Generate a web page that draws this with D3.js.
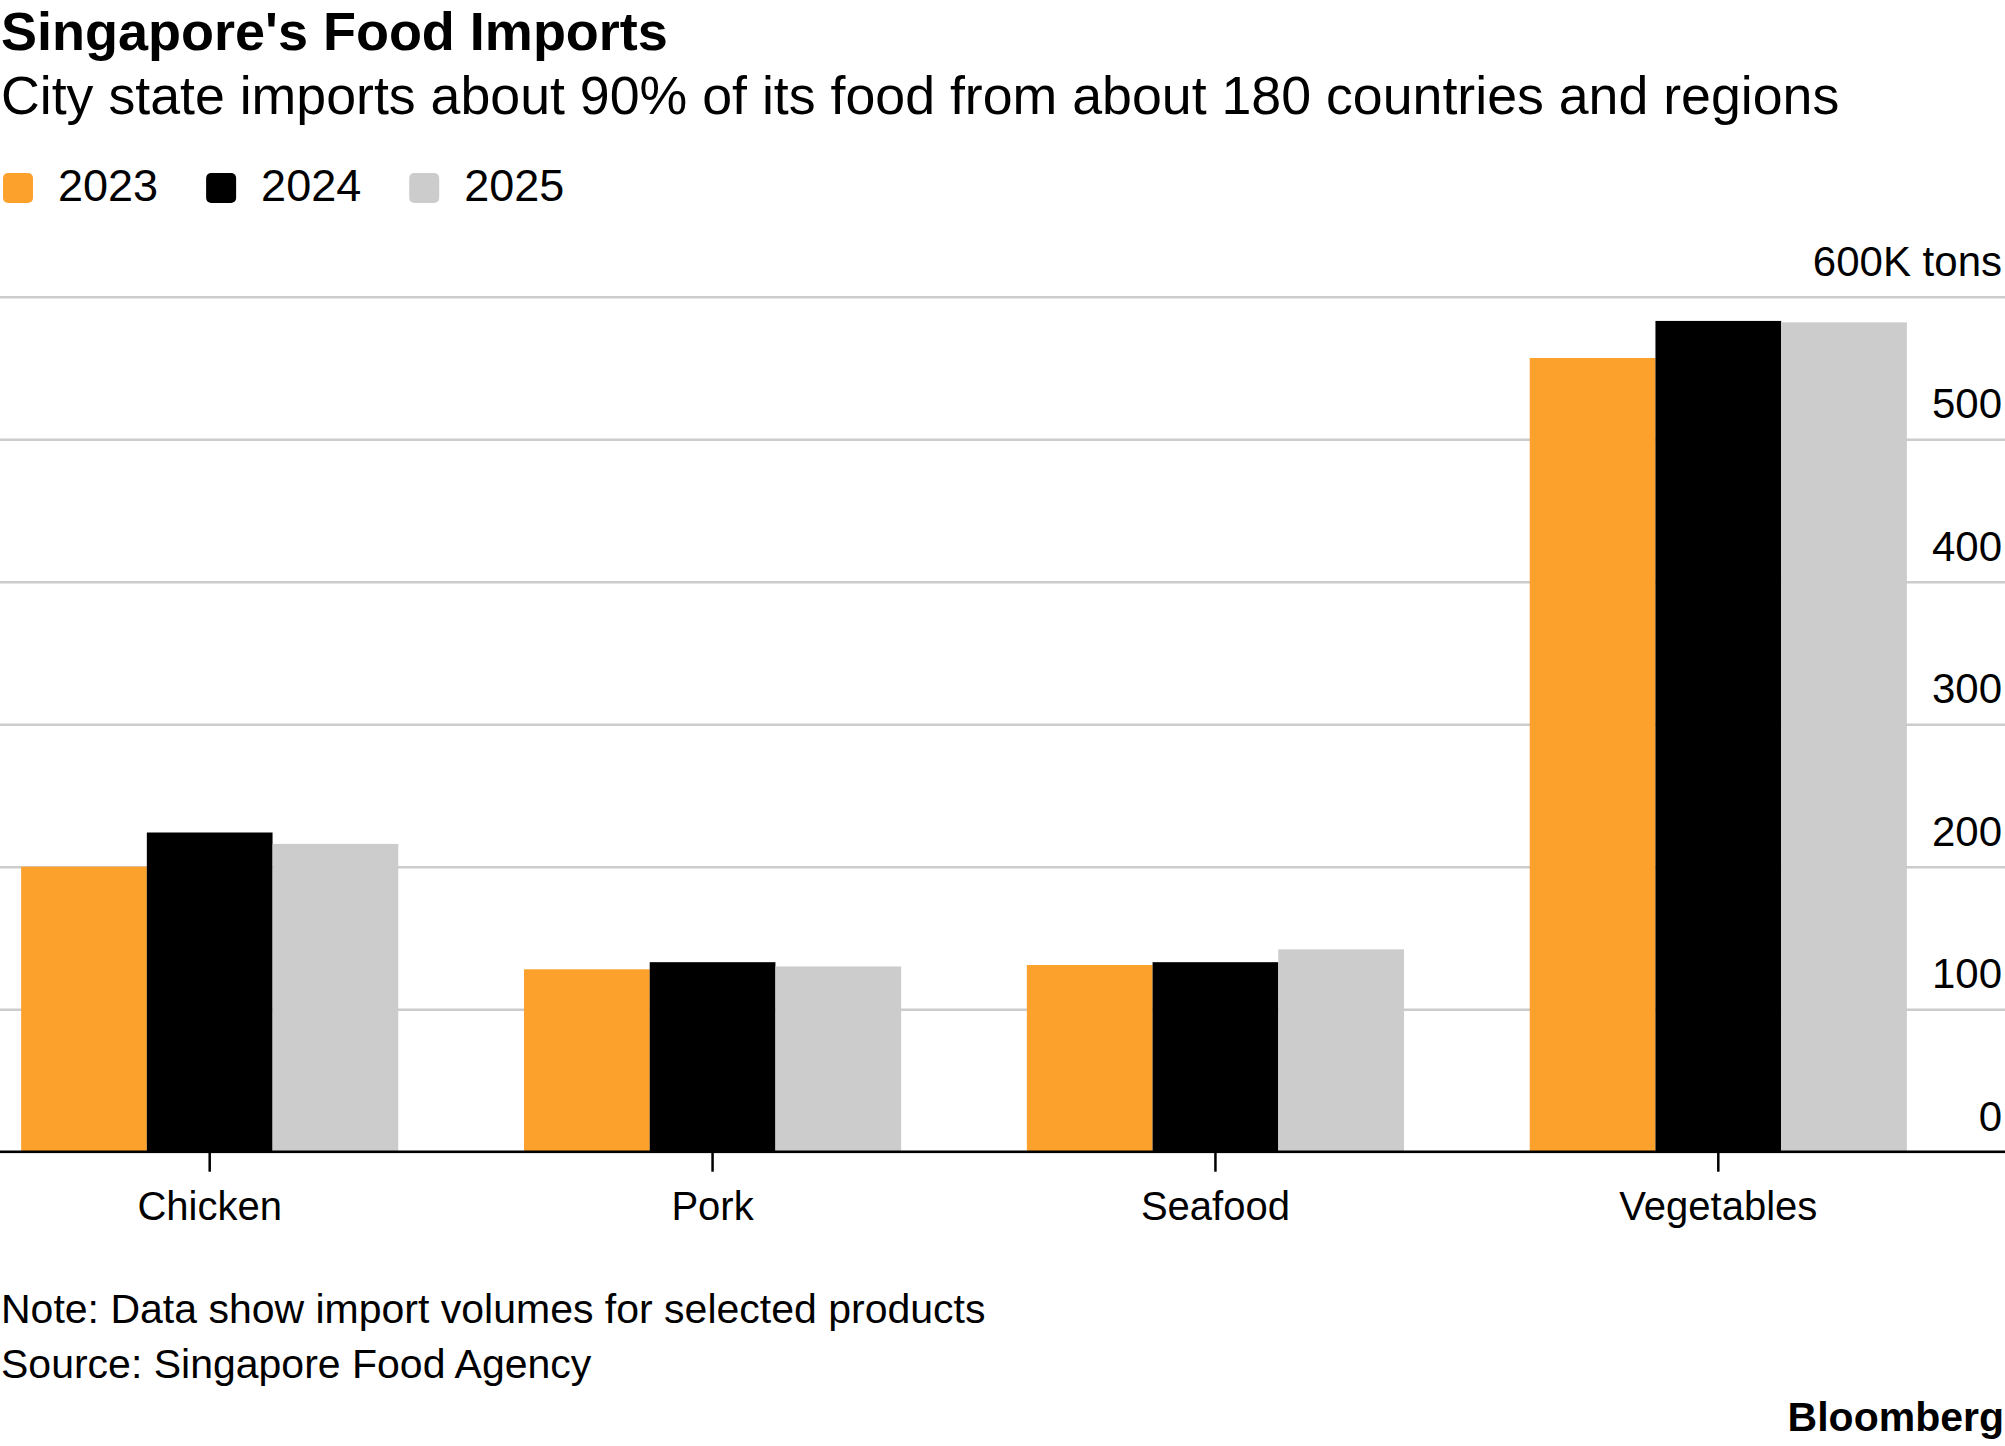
<!DOCTYPE html>
<html>
<head>
    <meta charset="utf-8">
    <script src="https://d3js.org/d3.v7.min.js"></script>
    <style>
        body { margin: 0; background: #fff; }
        text { font-family: "Liberation Sans", Arial, Helvetica, sans-serif; fill: #000; }
        .grid line { stroke: #cccccc; stroke-width: 2.5px; }
        .grid text { font-size: 42px; }
        .x.axis line { stroke: #000; stroke-width: 2.5px; }
        .x.axis text { font-size: 40px; }
        .baseline { stroke: #000; stroke-width: 2.5px; }
        .title { font-size: 54px; font-weight: bold; }
        .subtitle { font-size: 53.7px; }
        .legend text { font-size: 45px; }
        .foot { font-size: 41px; }
        .brand { font-size: 41px; font-weight: bold; }
    </style>
</head>
<body>
<script>
    // chart data (thousand tons)
    const categories = ["Chicken", "Pork", "Seafood", "Vegetables"];
    const years = ["2023", "2024", "2025"];
    const values2023 = [200, 128, 131, 557];
    const values2024 = [224, 133, 133, 583];
    const values2025 = [216, 130, 142, 582];
    const yTicks = [0, 100, 200, 300, 400, 500, 600];
    const colors = ["#fca12c", "#000000", "#cccccc"];

    const width = 2005, height = 1446;
    const plotTop = 296.7, plotBottom = 1151.7, plotRight = 1928;

    const series = [values2023, values2024, values2025];
    const rows = categories.map((c, i) => ({
        cat: c,
        vals: years.map((yr, j) => ({ year: yr, value: series[j][i] }))
    }));

    const svg = d3.select("body").append("svg")
        .attr("width", width)
        .attr("height", height);

    let x = d3.scaleBand()
        .domain(categories)
        .range([0, plotRight])
        .paddingInner(0.25)
        .paddingOuter(0.042);

    let xSub = d3.scaleBand()
        .domain(years)
        .range([0, x.bandwidth()]);

    let y = d3.scaleLinear()
        .domain([0, 600])
        .range([plotBottom, plotTop]);

    let color = d3.scaleOrdinal().domain(years).range(colors);

    // gridlines + right labels
    let yAxis = d3.axisRight(y)
        .tickValues(yTicks)
        .tickSize(width)
        .tickFormat(d => d === 600 ? "600K tons" : d);

    let grid = svg.append("g")
        .attr("class", "grid")
        .call(yAxis);
    grid.select(".domain").remove();
    grid.selectAll("text")
        .attr("x", width - 3)
        .attr("dy", -21.7)
        .attr("text-anchor", "end");

    // bars
    svg.append("g")
        .selectAll("g")
        .data(rows)
        .join("g")
            .attr("transform", d => "translate(" + x(d.cat) + ",0)")
        .selectAll("rect")
        .data(d => d.vals)
        .join("rect")
            .attr("x", d => xSub(d.year))
            .attr("y", d => y(d.value))
            .attr("width", xSub.bandwidth())
            .attr("height", d => y(0) - y(d.value))
            .attr("fill", d => color(d.year));

    // x axis
    let xAxis = d3.axisBottom(x).tickSize(20);
    let gx = svg.append("g")
        .attr("class", "x axis")
        .attr("transform", "translate(0," + y(0) + ")")
        .call(xAxis);
    gx.select(".domain").remove();
    gx.selectAll("text").attr("y", 68).attr("dy", 0);

    svg.append("line")
        .attr("class", "baseline")
        .attr("x1", 0)
        .attr("x2", width)
        .attr("y1", y(0))
        .attr("y2", y(0));

    // titles
    svg.append("text").attr("class", "title")
        .attr("x", 1).attr("y", 50)
        .text("Singapore's Food Imports");
    svg.append("text").attr("class", "subtitle")
        .attr("x", 1).attr("y", 114)
        .text("City state imports about 90% of its food from about 180 countries and regions");

    // legend
    let legend = svg.append("g").attr("class", "legend");
    let lx = 3;
    years.forEach(yr => {
        legend.append("rect")
            .attr("x", lx).attr("y", 173)
            .attr("width", 30).attr("height", 30)
            .attr("rx", 5)
            .attr("fill", color(yr));
        let t = legend.append("text")
            .attr("x", lx + 55).attr("y", 201)
            .text(yr);
        lx += 55 + t.node().getComputedTextLength() + 48;
    });

    // footer
    svg.append("text").attr("class", "foot")
        .attr("x", 1).attr("y", 1323)
        .text("Note: Data show import volumes for selected products");
    svg.append("text").attr("class", "foot")
        .attr("x", 1).attr("y", 1378)
        .text("Source: Singapore Food Agency");
    svg.append("text").attr("class", "brand")
        .attr("x", width - 1).attr("y", 1431)
        .attr("text-anchor", "end")
        .text("Bloomberg");
</script>
</body>
</html>
